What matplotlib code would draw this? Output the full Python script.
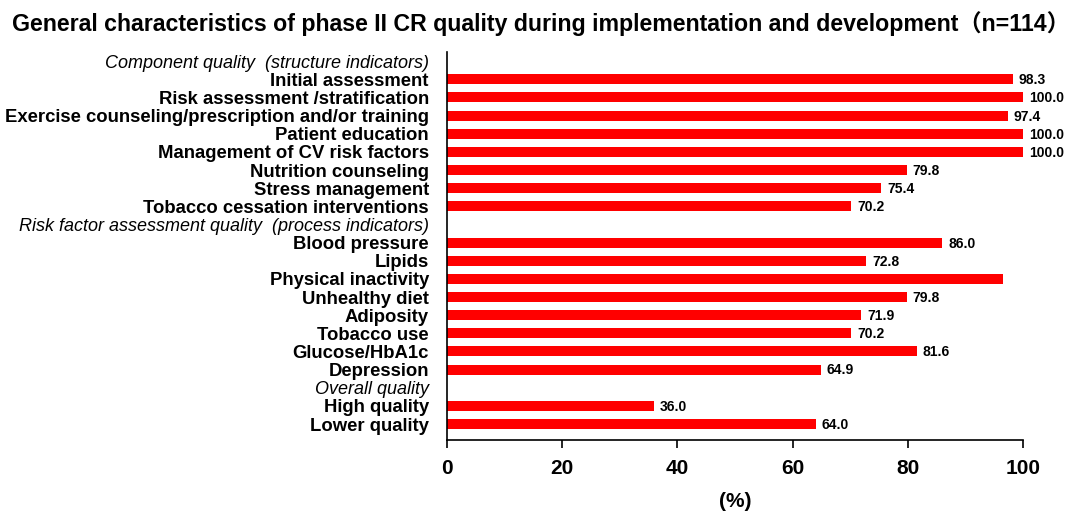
import matplotlib
matplotlib.use("Agg")
import matplotlib.pyplot as plt
from matplotlib import font_manager

# rows from top to bottom; None marks a section heading (no bar)
labels = [
    "Component quality  (structure indicators)",
    "Initial assessment",
    "Risk assessment /stratification",
    "Exercise counseling/prescription and/or training",
    "Patient education",
    "Management of CV risk factors",
    "Nutrition counseling",
    "Stress management",
    "Tobacco cessation interventions",
    "Risk factor assessment quality  (process indicators)",
    "Blood pressure",
    "Lipids",
    "Physical inactivity",
    "Unhealthy diet",
    "Adiposity",
    "Tobacco use",
    "Glucose/HbA1c",
    "Depression",
    "Overall quality",
    "High quality",
    "Lower quality",
]
values = [None, 98.3, 100.0, 97.4, 100.0, 100.0, 79.8, 75.4, 70.2,
          None, 86.0, 72.8, 96.5, 79.8, 71.9, 70.2, 81.6, 64.9,
          None, 36.0, 64.0]
# the original figure shows no number next to this bar
show_value = [lab != "Physical inactivity" for lab in labels]

names = {f.name for f in font_manager.fontManager.ttflist}
narrow = "Liberation Sans Narrow" if "Liberation Sans Narrow" in names else "Liberation Sans"

fig = plt.figure(figsize=(10.82, 5.11), dpi=100)
ax = fig.add_axes([0.413, 0.139, 0.5325, 0.759])

for i, v in enumerate(values):
    if v is None:
        continue
    ax.barh(i, v, height=0.55, color="#ff0000")
    if show_value[i]:
        ax.text(v + 1.0, i + 0.05, "%.1f" % v, va="center", ha="left",
                fontsize=10, fontweight="bold", family=narrow)

ax.set_ylim(20.88, -0.5)
ax.set_xlim(0, 100)
ax.set_yticks(range(len(labels)))
ax.set_yticklabels(labels)
for i, t in enumerate(ax.get_yticklabels()):
    t.set_family("Liberation Sans")
    if values[i] is None:
        t.set_style("italic")
        t.set_fontsize(13)
    else:
        t.set_fontweight("bold")
        t.set_fontsize(13.3)
ax.tick_params(axis="y", length=0, pad=13)

ax.set_xticks([0, 20, 40, 60, 80, 100])
ax.tick_params(axis="x", direction="out", length=6, width=1.2, pad=8)
for t in ax.get_xticklabels():
    t.set_family(narrow)
    t.set_fontsize(15)
    t.set_fontweight("bold")

ax.spines["top"].set_visible(False)
ax.spines["right"].set_visible(False)
ax.spines["left"].set_linewidth(1.2)
ax.spines["bottom"].set_linewidth(1.2)

ax.set_xlabel("(%)", family=narrow, fontsize=15, fontweight="bold", labelpad=10)

fig.text(0.5, 0.978, "General characteristics of phase II CR quality during implementation and development（n=114）",
         ha="center", va="top", fontsize=16.7, fontweight="bold",
         family=[narrow, "Noto Sans CJK SC", "DejaVu Sans"])

fig.savefig("out.png", dpi=100)
